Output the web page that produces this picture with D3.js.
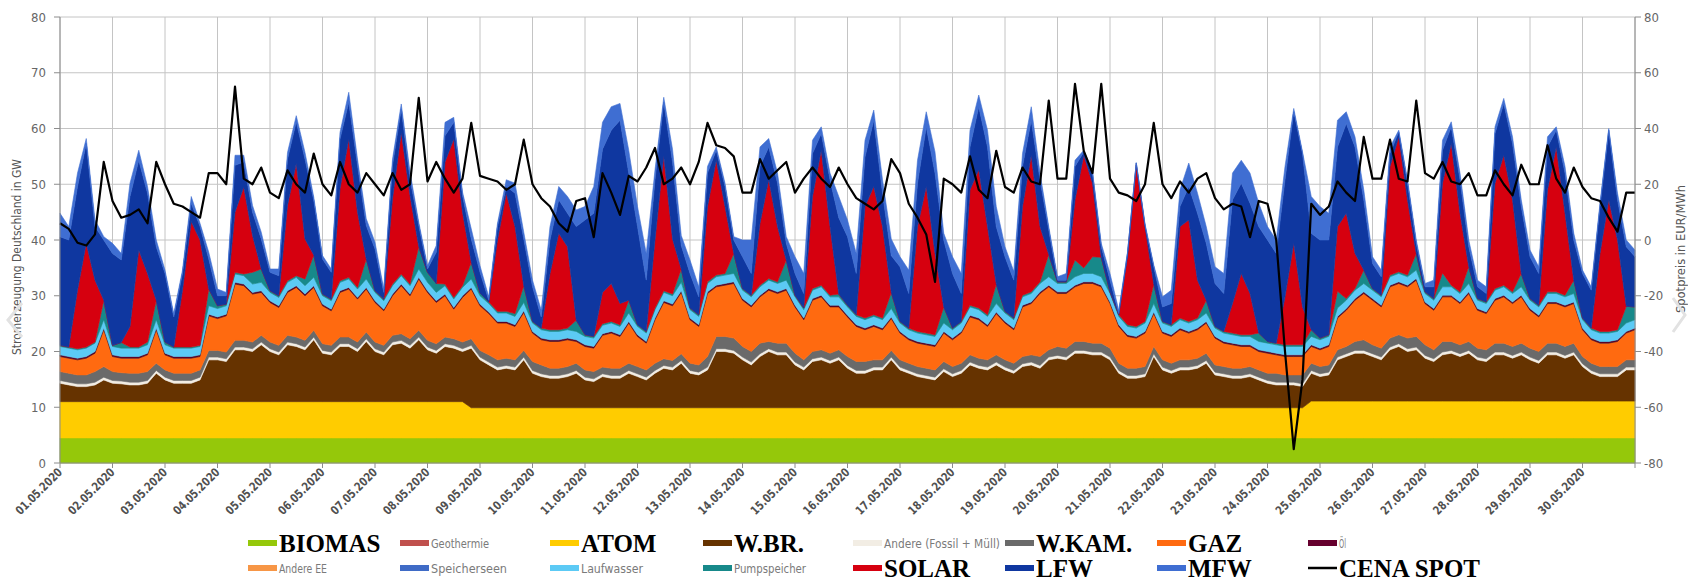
<!DOCTYPE html>
<html>
<head>
<meta charset="utf-8">
<script src="https://cdn.jsdelivr.net/npm/d3@7"></script>
<style>
body { margin: 0; background: #fff; }
svg text { font-family: "Liberation Sans Narrow", "DejaVu Sans Condensed", "Roboto Condensed", "Liberation Sans", sans-serif; }
</style>
</head>
<body>
<svg id="chart" width="1688" height="584"></svg>
<script>
// Stromerzeugung Deutschland, Mai 2020 - one sample every 4 hours from 01.05. 00:00
var hours = d3.range(0, 721, 4);

var dayLabels = ["01.05.2020","02.05.2020","03.05.2020","04.05.2020","05.05.2020","06.05.2020","07.05.2020","08.05.2020","09.05.2020","10.05.2020",
  "11.05.2020","12.05.2020","13.05.2020","14.05.2020","15.05.2020","16.05.2020","17.05.2020","18.05.2020","19.05.2020","20.05.2020",
  "21.05.2020","22.05.2020","23.05.2020","24.05.2020","25.05.2020","26.05.2020","27.05.2020","28.05.2020","29.05.2020","30.05.2020"];

var leftTicks = [0, 10, 20, 30, 40, 50, 60, 70, 80];
var rightTicks = [-80, -60, -40, -20, 0, 20, 40, 60, 80];

// GW per source
var biomas = [
4.5,4.5,4.5,4.5,4.5,4.5, 4.5,4.5,4.5,4.5,4.5,4.5, 4.5,4.5,4.5,4.5,4.5,4.5, 4.5,4.5,4.5,4.5,4.5,4.5, 4.5,4.5,4.5,4.5,4.5,4.5,
4.5,4.5,4.5,4.5,4.5,4.5, 4.5,4.5,4.5,4.5,4.5,4.5, 4.5,4.5,4.5,4.5,4.5,4.5, 4.5,4.5,4.5,4.5,4.5,4.5, 4.5,4.5,4.5,4.5,4.5,4.5,
4.5,4.5,4.5,4.5,4.5,4.5, 4.5,4.5,4.5,4.5,4.5,4.5, 4.5,4.5,4.5,4.5,4.5,4.5, 4.5,4.5,4.5,4.5,4.5,4.5, 4.5,4.5,4.5,4.5,4.5,4.5,
4.5,4.5,4.5,4.5,4.5,4.5, 4.5,4.5,4.5,4.5,4.5,4.5, 4.5,4.5,4.5,4.5,4.5,4.5, 4.5,4.5,4.5,4.5,4.5,4.5, 4.5,4.5,4.5,4.5,4.5,4.5,
4.5,4.5,4.5,4.5,4.5,4.5, 4.5,4.5,4.5,4.5,4.5,4.5, 4.5,4.5,4.5,4.5,4.5,4.5, 4.5,4.5,4.5,4.5,4.5,4.5, 4.5,4.5,4.5,4.5,4.5,4.5,
4.5,4.5,4.5,4.5,4.5,4.5, 4.5,4.5,4.5,4.5,4.5,4.5, 4.5,4.5,4.5,4.5,4.5,4.5, 4.5,4.5,4.5,4.5,4.5,4.5, 4.5,4.5,4.5,4.5,4.5,4.5,
4.5];

var atom = [
6.5,6.5,6.5,6.5,6.5,6.5, 6.5,6.5,6.5,6.5,6.5,6.5, 6.5,6.5,6.5,6.5,6.5,6.5, 6.5,6.5,6.5,6.5,6.5,6.5, 6.5,6.5,6.5,6.5,6.5,6.5,
6.5,6.5,6.5,6.5,6.5,6.5, 6.5,6.5,6.5,6.5,6.5,6.5, 6.5,6.5,6.5,6.5,6.5,5.4, 5.4,5.4,5.4,5.4,5.4,5.4, 5.4,5.4,5.4,5.4,5.4,5.4,
5.4,5.4,5.4,5.4,5.4,5.4, 5.4,5.4,5.4,5.4,5.4,5.4, 5.4,5.4,5.4,5.4,5.4,5.4, 5.4,5.4,5.4,5.4,5.4,5.4, 5.4,5.4,5.4,5.4,5.4,5.4,
5.4,5.4,5.4,5.4,5.4,5.4, 5.4,5.4,5.4,5.4,5.4,5.4, 5.4,5.4,5.4,5.4,5.4,5.4, 5.4,5.4,5.4,5.4,5.4,5.4, 5.4,5.4,5.4,5.4,5.4,5.4,
5.4,5.4,5.4,5.4,5.4,5.4, 5.4,5.4,5.4,5.4,5.4,5.4, 5.4,5.4,5.4,5.4,5.4,5.4, 5.4,5.4,5.4,5.4,5.4,6.6, 6.6,6.6,6.6,6.6,6.6,6.6,
6.6,6.6,6.6,6.6,6.6,6.6, 6.6,6.6,6.6,6.6,6.6,6.6, 6.6,6.6,6.6,6.6,6.6,6.6, 6.6,6.6,6.6,6.6,6.6,6.6, 6.6,6.6,6.6,6.6,6.6,6.6,
6.6];

var wbr = [
3.3,3.0,2.7,2.7,3.0,3.9, 3.3,3.2,3.0,3.0,3.3,5.1, 3.9,3.3,3.3,3.3,3.9,7.5, 7.5,7.2,9.3,9.3,9.0,10.2, 9.0,8.4,10.2,9.9,9.3,11.1,
8.7,8.4,9.9,9.9,9.0,10.8, 9.0,8.4,10.2,10.5,9.6,11.1, 9.3,8.7,9.9,9.6,9.0,10.7, 8.6,7.7,6.8,7.1,6.8,8.6, 6.2,5.6,5.3,5.3,5.6,6.2,
5.0,4.7,5.6,5.3,5.3,6.2, 5.6,5.0,6.2,7.1,6.8,8.0, 6.2,5.9,6.8,10.1,10.1,9.8, 8.6,7.7,9.2,10.1,9.5,9.5, 7.7,6.8,8.3,8.6,8.0,8.6,
7.1,6.2,6.2,6.8,6.8,8.6, 6.8,6.2,5.6,5.3,5.0,6.5, 5.6,6.2,7.7,7.1,6.8,7.7, 6.8,6.2,7.4,7.7,7.1,8.6, 8.9,8.6,9.8,9.8,9.5,9.5,
8.6,6.2,5.3,5.3,5.6,9.2, 6.8,6.2,6.8,6.8,7.1,8.0, 5.9,5.6,5.3,5.3,5.6,5.0, 4.4,4.1,4.1,4.1,3.8,5.0, 4.4,4.7,7.4,8.0,8.6,8.6,
8.0,7.4,9.2,9.8,8.9,9.2, 7.7,7.1,8.3,8.6,8.0,8.6, 7.4,7.1,8.3,8.3,7.7,8.3, 7.4,6.8,8.3,8.3,7.7,8.3, 6.2,5.0,4.4,4.4,4.4,5.6,
5.6];

var andere = [
0.5,0.5,0.5,0.5,0.5,0.5, 0.5,0.5,0.5,0.5,0.5,0.5, 0.5,0.5,0.5,0.5,0.5,0.5, 0.5,0.5,0.5,0.5,0.5,0.5, 0.5,0.5,0.5,0.5,0.5,0.5,
0.5,0.5,0.5,0.5,0.5,0.5, 0.5,0.5,0.5,0.5,0.5,0.5, 0.5,0.5,0.5,0.5,0.5,0.5, 0.5,0.5,0.5,0.5,0.5,0.5, 0.5,0.5,0.5,0.5,0.5,0.5,
0.5,0.5,0.5,0.5,0.5,0.5, 0.5,0.5,0.5,0.5,0.5,0.5, 0.5,0.5,0.5,0.5,0.5,0.5, 0.5,0.5,0.5,0.5,0.5,0.5, 0.5,0.5,0.5,0.5,0.5,0.5,
0.5,0.5,0.5,0.5,0.5,0.5, 0.5,0.5,0.5,0.5,0.5,0.5, 0.5,0.5,0.5,0.5,0.5,0.5, 0.5,0.5,0.5,0.5,0.5,0.5, 0.5,0.5,0.5,0.5,0.5,0.5,
0.5,0.5,0.5,0.5,0.5,0.5, 0.5,0.5,0.5,0.5,0.5,0.5, 0.5,0.5,0.5,0.5,0.5,0.5, 0.5,0.5,0.5,0.5,0.5,0.5, 0.5,0.5,0.5,0.5,0.5,0.5,
0.5,0.5,0.5,0.5,0.5,0.5, 0.5,0.5,0.5,0.5,0.5,0.5, 0.5,0.5,0.5,0.5,0.5,0.5, 0.5,0.5,0.5,0.5,0.5,0.5, 0.5,0.5,0.5,0.5,0.5,0.5,
0.5];

var wkam = [
1.6,1.6,1.6,1.6,1.9,1.9, 1.6,1.5,1.6,1.6,1.6,1.3, 1.3,1.3,1.3,1.3,1.3,1.2, 1.2,1.2,1.2,1.2,1.2,1.2, 1.2,1.2,1.2,1.2,1.2,1.2,
1.2,1.2,1.2,1.2,1.2,1.2, 1.2,1.2,1.2,1.2,1.2,1.2, 1.2,1.2,1.2,1.2,1.2,1.2, 1.2,1.3,1.3,1.3,1.3,1.2, 1.6,1.6,1.3,1.3,1.3,1.3,
1.3,1.3,1.2,1.3,1.3,1.3, 1.3,1.3,1.3,1.2,1.2,1.2, 1.3,1.3,1.9,2.2,2.2,2.2, 1.9,1.9,1.9,1.3,1.6,1.6, 1.6,1.3,1.3,1.3,1.3,1.3,
1.6,1.6,1.6,1.3,1.3,1.2, 1.3,1.3,1.3,1.3,1.3,1.3, 1.3,1.3,1.3,1.3,1.3,1.3, 1.3,1.3,1.3,1.3,1.6,1.3, 1.6,1.6,1.6,1.6,1.6,1.6,
1.6,1.3,1.3,1.3,1.3,1.3, 1.3,1.3,1.3,1.3,1.3,1.3, 1.3,1.3,1.3,1.3,1.3,1.3, 1.3,1.6,1.3,1.3,1.6,1.3, 1.3,1.3,1.3,1.3,1.6,1.9,
1.6,1.6,1.6,1.6,1.9,1.9, 1.9,1.6,1.9,1.6,1.6,1.6, 1.6,1.6,1.6,1.6,1.6,1.6, 1.6,1.6,1.6,1.6,1.6,1.6, 1.3,1.3,1.3,1.3,1.3,1.3,
1.3];

var gaz = [
2.7,2.7,2.7,3.0,3.3,6.6, 2.7,2.6,2.7,2.7,3.0,6.0, 2.7,2.7,2.7,2.7,2.4,6.2, 5.7,6.5,10.1,9.8,8.6,7.7, 7.1,6.8,7.7,8.9,8.0,7.7,
6.8,6.2,8.0,8.6,7.7,7.7, 7.1,6.2,7.1,8.6,7.7,9.2, 8.6,7.4,7.4,5.3,8.0,8.9, 8.0,7.4,6.6,6.3,6.0,6.8, 5.1,4.5,4.8,4.8,4.8,3.9,
4.2,4.2,5.7,6.3,5.7,7.2, 5.4,4.8,7.8,10.1,9.8,11.0, 7.8,6.9,11.3,8.9,9.2,9.8, 8.3,8.0,8.3,9.2,8.9,9.5, 8.3,7.2,9.2,9.5,8.3,7.7,
7.1,6.3,5.7,6.0,5.4,5.7, 4.8,4.2,4.2,4.2,4.2,5.1, 4.8,5.4,6.8,6.9,6.0,7.4, 6.6,6.0,8.9,9.2,11.3,11.3, 9.5,9.8,9.8,10.4,10.7,10.1,
8.0,6.6,5.7,5.4,6.0,5.9, 4.8,4.8,5.4,4.8,5.1,5.4, 4.8,4.2,4.2,3.9,3.6,3.3, 3.6,3.3,3.3,3.3,3.3,3.0, 3.0,3.3,5.7,6.5,7.4,8.3,
8.0,7.4,9.2,9.2,9.2,10.1, 7.4,7.1,8.0,8.0,7.4,8.6, 6.8,6.5,7.7,8.3,7.7,8.3, 6.8,6.2,7.1,7.1,7.1,7.1, 4.8,4.2,4.2,4.2,4.5,4.8,
5.4];

var oel = [
0.3,0.3,0.3,0.3,0.3,0.3, 0.3,0.3,0.3,0.3,0.3,0.3, 0.3,0.3,0.3,0.3,0.3,0.3, 0.3,0.3,0.3,0.3,0.3,0.3, 0.3,0.3,0.3,0.3,0.3,0.3,
0.3,0.3,0.3,0.3,0.3,0.3, 0.3,0.3,0.3,0.3,0.3,0.3, 0.3,0.3,0.3,0.3,0.3,0.3, 0.3,0.3,0.3,0.3,0.3,0.3, 0.3,0.3,0.3,0.3,0.3,0.3,
0.3,0.3,0.3,0.3,0.3,0.3, 0.3,0.3,0.3,0.3,0.3,0.3, 0.3,0.3,0.3,0.3,0.3,0.3, 0.3,0.3,0.3,0.3,0.3,0.3, 0.3,0.3,0.3,0.3,0.3,0.3,
0.3,0.3,0.3,0.3,0.3,0.3, 0.3,0.3,0.3,0.3,0.3,0.3, 0.3,0.3,0.3,0.3,0.3,0.3, 0.3,0.3,0.3,0.3,0.3,0.3, 0.3,0.3,0.3,0.3,0.3,0.3,
0.3,0.3,0.3,0.3,0.3,0.3, 0.3,0.3,0.3,0.3,0.3,0.3, 0.3,0.3,0.3,0.3,0.3,0.3, 0.3,0.3,0.3,0.3,0.3,0.3, 0.3,0.3,0.3,0.3,0.3,0.3,
0.3,0.3,0.3,0.3,0.3,0.3, 0.3,0.3,0.3,0.3,0.3,0.3, 0.3,0.3,0.3,0.3,0.3,0.3, 0.3,0.3,0.3,0.3,0.3,0.3, 0.3,0.3,0.3,0.3,0.3,0.3,
0.3];

var laufwasser = [
1.5,1.5,1.5,1.5,1.5,1.5, 1.5,1.5,1.5,1.5,1.5,1.5, 1.5,1.5,1.5,1.5,1.5,1.5, 1.5,1.5,1.5,1.5,1.5,1.5, 1.5,1.5,1.5,1.5,1.5,1.5,
1.5,1.5,1.5,1.5,1.5,1.5, 1.5,1.5,1.5,1.5,1.5,1.5, 1.5,1.5,1.5,1.5,1.5,1.5, 1.5,1.5,1.5,1.5,1.5,1.5, 1.5,1.5,1.5,1.5,1.5,1.5,
1.5,1.5,1.5,1.5,1.5,1.5, 1.5,1.5,1.5,1.5,1.5,1.5, 1.5,1.5,1.5,1.5,1.5,1.5, 1.5,1.5,1.5,1.5,1.5,1.5, 1.5,1.5,1.5,1.5,1.5,1.5,
1.5,1.5,1.5,1.5,1.5,1.5, 1.5,1.5,1.5,1.5,1.5,1.5, 1.5,1.5,1.5,1.5,1.5,1.5, 1.5,1.5,1.5,1.5,1.5,1.5, 1.5,1.5,1.5,1.5,1.5,1.5,
1.5,1.5,1.5,1.5,1.5,1.5, 1.5,1.5,1.5,1.5,1.5,1.5, 1.5,1.5,1.5,1.5,1.5,1.5, 1.5,1.5,1.5,1.5,1.5,1.5, 1.5,1.5,1.5,1.5,1.5,1.5,
1.5,1.5,1.5,1.5,1.5,1.5, 1.5,1.5,1.5,1.5,1.5,1.5, 1.5,1.5,1.5,1.5,1.5,1.5, 1.5,1.5,1.5,1.5,1.5,1.5, 1.5,1.5,1.5,1.5,1.5,1.5,
1.5];

var pumpspeicher = [
0.2,0.2,0.2,0.2,0.2,3.5, 0.2,1.0,0.2,0.2,0.5,3.5, 0.5,0.2,0.2,0.2,0.2,3.0, 0.5,0.3,0.3,0.3,2.1,2.4, 0.3,0.3,0.3,0.3,1.2,4.0,
0.3,0.3,0.3,0.3,0.3,3.6, 0.3,0.3,0.3,0.3,0.3,4.0, 1.8,1.6,0.3,0.3,0.3,3.0, 0.5,0.3,0.3,0.3,0.5,3.0, 0.3,0.3,0.3,0.3,0.3,2.0,
0.3,0.3,0.3,0.3,0.3,2.3, 0.3,0.3,0.3,0.3,0.3,2.4, 0.3,0.3,0.3,0.3,0.3,3.6, 0.3,0.3,0.3,0.3,0.3,3.6, 0.3,0.3,0.3,0.3,0.3,0.5,
0.3,0.3,0.3,0.3,0.3,2.9, 0.3,0.3,0.3,0.3,0.3,2.9, 0.3,0.3,0.3,0.3,0.3,3.5, 0.3,0.3,0.3,0.3,0.3,4.0, 0.3,0.3,3.0,1.0,3.0,3.5,
0.3,0.3,0.3,0.3,0.3,3.5, 0.3,0.3,0.3,0.3,0.3,2.3, 0.3,0.3,0.3,0.3,0.3,1.5, 0.3,0.3,0.3,0.3,0.3,1.2, 0.3,0.3,3.0,0.3,0.3,2.4,
0.3,0.3,0.3,0.3,0.3,3.0, 0.3,0.3,2.5,0.3,0.3,3.0, 0.3,0.3,0.3,0.3,0.3,2.4, 0.3,0.3,0.3,0.3,0.3,2.4, 0.3,0.3,0.3,0.3,0.3,3.0,
2.3];

var solar = [
0,0,10.5,18.6,11.1,0, 0,0,3.7,17.4,12.3,0, 0,0,10.2,22.5,18.9,0, 0,0,10.8,15.6,6.6,0, 0,0,13.5,20.1,7.2,0,
0,0,16.5,24.8,13.5,0, 0,0,15.3,25.4,15.9,0, 0,0,21.9,28.4,13.2,0, 0,0,12.8,21.2,15.6,0, 0,0,10.1,17.3,14.6,0,
0,0,5.6,6.8,3.8,0, 0,0,12.2,24.2,9.9,0, 0,0,13.5,20.6,12.0,0, 0,0,11.1,17.7,9.9,0, 0,0,16.5,24.2,12.3,0,
0,0,20.0,23.0,16.4,0, 0,0,18.8,26.3,14.6,0, 0,0,20.7,24.8,15.8,0, 0,0,15.9,24.5,9.9,0, 0,0,10.8,20.2,13.2,0,
0,0,12.2,29.0,17.0,0, 0,0,16.4,18.2,6.8,0, 0,0,5.3,11.0,7.4,0, 0,0,8.6,18.2,6.8,0, 0,0,11.6,15.3,6.3,0,
0,0,19.5,24.2,13.5,0, 0,0,16.1,25.4,14.1,0, 0,0,18.9,23.3,16.5,0, 0,0,18.3,26.0,14.7,0, 0,0,14.0,23.6,16.1,0,
0];

var lfw = [
19.5,19.2,18.6,17.9,9.6,10.8, 16.5,14.8,23.3,16.1,14.4,9.6, 12.3,5.4,3.0,3.3,2.4,5.4, 1.8,1.5,8.4,4.5,4.2,5.4, 3.3,3.6,8.3,7.5,14.3,9.8,
6.3,4.8,8.9,6.6,8.4,6.0, 7.5,1.2,6.0,4.2,3.0,3.8, 0.6,5.6,4.7,3.0,3.0,4.2, 3.7,0.3,2.4,1.2,6.0,8.4, 6.2,2.0,6.0,6.0,6.0,16.8,
20.6,22.1,25.7,27.5,32.9,22.8, 17.6,9.2,10.8,9.6,13.8,4.2, 6.2,3.2,6.0,1.8,3.6,2.4, 5.7,3.9,10.2,5.9,7.8,3.0, 3.9,2.6,7.7,3.0,8.4,13.7,
12.3,7.4,8.9,11.9,6.0,6.6, 9.8,6.2,7.8,10.7,14.4,12.0, 9.8,5.0,7.7,11.3,14.3,10.3, 9.8,6.8,7.2,6.3,8.4,4.4, 0.3,0.3,6.0,0.6,1.8,1.9,
2.1,0.2,0.6,0.3,0.2,3.1, 2.6,3.8,3.6,6.0,12.0,10.2, 7.7,6.8,18.6,16.2,16.2,19.1, 18.2,16.1,21.0,23.6,27.5,17.3, 17.6,17.0,14.3,16.1,19.1,12.6,
4.5,3.3,2.3,0.9,3.0,1.8, 0.9,2.1,5.9,3.0,6.0,3.6, 2.1,1.5,8.9,9.3,10.1,12.0, 7.5,5.7,7.7,3.0,7.2,7.2, 8.0,6.8,8.4,12.5,7.2,10.7,
9.0];

var mfw = [
4.2,2.4,2.4,0.9,1.2,0.6, 1.8,1.2,2.4,1.8,1.2,1.2, 0.6,0.6,0.6,1.2,0.6,1.2, 1.2,0.6,1.8,1.2,1.2,1.2, 0.6,1.2,1.2,1.1,1.2,0.6,
0.6,0.6,1.2,1.8,1.1,1.2, 1.2,0.6,1.1,0.9,1.2,0.6, 0.6,1.2,2.4,0.9,0.6,1.8, 1.2,0.6,0.6,1.2,1.8,1.2, 1.2,1.2,2.4,2.4,3.0,3.0,
2.4,4.8,4.8,4.2,3.0,4.1, 3.6,4.8,1.8,0.9,2.3,1.8, 2.4,1.8,1.2,0.6,0.6,0.6, 3.0,6.0,3.5,1.5,1.8,1.2, 3.0,3.6,2.4,1.2,1.2,3.8,
3.0,3.6,3.0,1.8,2.4,3.0, 1.8,4.2,4.1,2.7,3.8,1.2, 3.0,3.6,3.0,2.1,3.0,3.6, 1.8,1.6,2.3,2.4,1.2,0.6, 0.6,1.2,1.1,0.3,0.3,0.6,
1.2,0.6,0.2,0.1,0.3,0.3, 1.8,2.4,3.0,4.2,3.6,3.0, 3.0,3.6,4.8,4.1,5.4,4.2, 2.4,2.4,2.4,0.6,0.3,6.6, 6.0,4.8,4.8,2.1,1.8,1.8,
1.2,1.2,1.2,0.3,0.6,0.6, 0.6,1.2,1.8,0.9,1.2,1.2, 1.2,1.2,1.2,0.9,1.2,1.2, 1.2,1.2,1.8,0.6,1.2,1.2, 0.6,0.6,0.6,0.3,1.2,1.2,
1.2];

// EUR/MWh, right axis
var spotPrice = [
6,4,-1,-2,2,28, 14,8,9,11,6,28, 20,13,12,10,8,24, 24,20,55,22,20,26, 17,15,25,20,17,31,
20,16,28,20,17,24, 20,16,24,18,20,51, 21,28,22,17,22,42, 23,22,21,18,20,36, 20,15,12,6,3,14,
15,1,24,17,9,23, 21,26,33,20,22,26, 20,28,42,34,33,30, 17,17,29,22,25,28, 17,22,26,22,19,26,
20,15,13,11,14,29, 24,13,8,2,-15,22, 20,17,30,18,15,32, 19,17,26,21,20,50, 22,22,56,32,24,56,
22,17,16,14,20,42, 20,15,21,17,22,24, 15,11,13,12,1,14, 13,0,-40,-75,-50,13, 9,12,21,17,14,37,
22,22,36,22,21,50, 24,22,28,21,20,24, 16,16,25,20,16,27, 20,20,34,22,17,26, 19,15,14,8,3,17,
17];

var stackKeys = ["biomas","atom","wbr","andere","wkam","gaz","oel","laufwasser","pumpspeicher","solar","lfw","mfw"];
var stackValues = { biomas: biomas, atom: atom, wbr: wbr, andere: andere, wkam: wkam, gaz: gaz, oel: oel,
  laufwasser: laufwasser, pumpspeicher: pumpspeicher, solar: solar, lfw: lfw, mfw: mfw };
var colors = { biomas: "#95c80a", geothermie: "#c0504d", atom: "#ffcc00", wbr: "#663300", andere: "#f2ede4",
  wkam: "#6a6a6a", gaz: "#ff6a10", oel: "#66002e", andereEE: "#f79646", speicherseen: "#3f6bc6",
  laufwasser: "#5ccaf5", pumpspeicher: "#17898a", solar: "#d6000f", lfw: "#0f37a0", mfw: "#3f6ed2", spot: "#000000" };

var legendRow1 = [["biomas","BIOMAS"],["geothermie","Geothermie"],["atom","ATOM"],["wbr","W.BR."],
  ["andere","Andere (Fossil + Müll)"],["wkam","W.KAM."],["gaz","GAZ"],["oel","Öl"]];
var legendRow2 = [["andereEE","Andere EE"],["speicherseen","Speicherseen"],["laufwasser","Laufwasser"],["pumpspeicher","Pumpspeicher"],
  ["solar","SOLAR"],["lfw","LFW"],["mfw","MFW"],["spot","CENA SPOT"]];
var bigLabels = ["BIOMAS","ATOM","W.BR.","W.KAM.","GAZ","SOLAR","LFW","MFW","CENA SPOT"];
// printed widths of the small condensed legend texts
var smallWidths = { "Geothermie": 58, "Andere EE": 48, "Speicherseen": 76, "Laufwasser": 62,
  "Pumpspeicher": 72, "Andere (Fossil + Müll)": 116, "Öl": 7 };

var svg = d3.select("#chart");
var plotL = 60, plotR = 1635, plotT = 17, plotB = 463;

var x = d3.scaleLinear().domain([0, 720]).range([plotL, plotR]);
var y = d3.scaleLinear().domain([0, 80]).range([plotB, plotT]);
var y2 = d3.scaleLinear().domain([-80, 80]).range([plotB, plotT]);

// grid
svg.append("g").selectAll("line").data(leftTicks).enter().append("line")
  .attr("x1", plotL).attr("x2", plotR)
  .attr("y1", function (d) { return y(d); }).attr("y2", function (d) { return y(d); })
  .attr("stroke", "#c4c4c4").attr("stroke-width", 1);
svg.append("g").selectAll("line").data(d3.range(0, 31)).enter().append("line")
  .attr("x1", function (d) { return x(d * 24); }).attr("x2", function (d) { return x(d * 24); })
  .attr("y1", plotT).attr("y2", plotB)
  .attr("stroke", "#c4c4c4").attr("stroke-width", 1);

// stacked areas
var table = hours.map(function (h, i) {
  var row = { h: h };
  stackKeys.forEach(function (k) { row[k] = stackValues[k][i]; });
  return row;
});
var layers = d3.stack().keys(stackKeys)(table);
var area = d3.area()
  .x(function (d) { return x(d.data.h); })
  .y0(function (d) { return y(d[0]); })
  .y1(function (d) { return y(d[1]); });

svg.append("g").selectAll("path").data(layers).enter().append("path")
  .attr("d", area)
  .attr("fill", function (d) { return colors[d.key]; })
  .attr("stroke", function (d) { return d.key === "oel" ? "#3a0a1a" : colors[d.key]; })
  .attr("stroke-width", 0.6);

// spot price line
var priceLine = d3.line()
  .x(function (d, i) { return x(hours[i]); })
  .y(function (d) { return y2(d); });
svg.append("path").datum(spotPrice)
  .attr("d", priceLine)
  .attr("fill", "none").attr("stroke", colors.spot).attr("stroke-width", 2.2)
  .attr("stroke-linejoin", "round");

// axes
var axisColor = "#8c8c8c";
svg.append("line").attr("x1", plotL).attr("x2", plotL).attr("y1", plotT).attr("y2", plotB).attr("stroke", axisColor);
svg.append("line").attr("x1", plotR).attr("x2", plotR).attr("y1", plotT).attr("y2", plotB).attr("stroke", axisColor);
svg.append("line").attr("x1", plotL).attr("x2", plotR).attr("y1", plotB).attr("y2", plotB).attr("stroke", axisColor);

svg.append("g").selectAll("line").data(leftTicks).enter().append("line")
  .attr("x1", plotL - 6).attr("x2", plotL).attr("y1", function (d) { return y(d); }).attr("y2", function (d) { return y(d); })
  .attr("stroke", axisColor);
svg.append("g").selectAll("text").data(leftTicks).enter().append("text")
  .attr("x", 46).attr("y", function (d) { return y(d); }).attr("dy", "0.35em")
  .attr("text-anchor", "end").attr("font-size", 13).attr("fill", "#666")
  .text(function (d) { return d; });

svg.append("g").selectAll("line").data(rightTicks).enter().append("line")
  .attr("x1", plotR).attr("x2", plotR + 6).attr("y1", function (d) { return y2(d); }).attr("y2", function (d) { return y2(d); })
  .attr("stroke", axisColor);
svg.append("g").selectAll("text").data(rightTicks).enter().append("text")
  .attr("x", 1644).attr("y", function (d) { return y2(d); }).attr("dy", "0.35em")
  .attr("text-anchor", "start").attr("font-size", 13).attr("fill", "#666")
  .text(function (d) { return d; });

svg.append("g").selectAll("line").data(d3.range(0, 31)).enter().append("line")
  .attr("x1", function (d) { return x(d * 24); }).attr("x2", function (d) { return x(d * 24); })
  .attr("y1", plotB).attr("y2", plotB + 5).attr("stroke", axisColor);
svg.append("g").selectAll("text").data(dayLabels).enter().append("text")
  .attr("transform", function (d, i) { return "translate(" + (x(i * 24) + 3) + "," + (plotB + 10) + ") rotate(-45)"; })
  .attr("text-anchor", "end").attr("font-size", 12).attr("font-weight", "bold").attr("fill", "#505050")
  .attr("textLength", 60).attr("lengthAdjust", "spacingAndGlyphs")
  .text(function (d) { return d; });

// axis titles
svg.append("text").attr("transform", "translate(21,257) rotate(-90)")
  .attr("text-anchor", "middle").attr("font-size", 12).attr("fill", "#555")
  .attr("textLength", 196).attr("lengthAdjust", "spacingAndGlyphs")
  .text("Stromerzeugung  Deutschland  in GW");
svg.append("text").attr("transform", "translate(1685,249) rotate(-90)")
  .attr("text-anchor", "middle").attr("font-size", 12).attr("fill", "#555")
  .attr("textLength", 128).attr("lengthAdjust", "spacingAndGlyphs")
  .text("Spotpreis  in EUR/MWh");

// faint carousel arrows from the screenshot
svg.append("path").attr("d", "M22,303 L8,320 L22,337").attr("fill", "none").attr("stroke", "#e2e2e2").attr("stroke-width", 3);
svg.append("path").attr("d", "M1673,298 L1685,315 L1673,332").attr("fill", "none").attr("stroke", "#e2e2e2").attr("stroke-width", 3);

// legend
var colX = [248, 400, 550, 703, 853, 1005, 1157, 1308];
function drawLegendRow(items, rowY) {
  var g = svg.append("g");
  items.forEach(function (item, i) {
    var key = item[0], label = item[1];
    var big = bigLabels.indexOf(label) >= 0;
    if (key === "spot") {
      g.append("line").attr("x1", colX[i]).attr("x2", colX[i] + 29).attr("y1", rowY).attr("y2", rowY)
        .attr("stroke", "#000").attr("stroke-width", 2.5);
    } else {
      g.append("rect").attr("x", colX[i]).attr("y", rowY - 3).attr("width", 29).attr("height", 6)
        .attr("fill", colors[key]);
    }
    var t = g.append("text").attr("x", colX[i] + 31).attr("y", rowY).attr("dy", "0.35em").text(label);
    if (big) {
      t.attr("font-size", 25).attr("font-weight", "bold").attr("fill", "#000")
        .style("font-family", "'Liberation Serif', 'Times New Roman', serif");
    } else {
      t.attr("font-size", 13).attr("fill", "#7a7a7a")
        .attr("textLength", smallWidths[label]).attr("lengthAdjust", "spacingAndGlyphs");
    }
  });
}
drawLegendRow(legendRow1, 543);
drawLegendRow(legendRow2, 568);
</script>
</body>
</html>
